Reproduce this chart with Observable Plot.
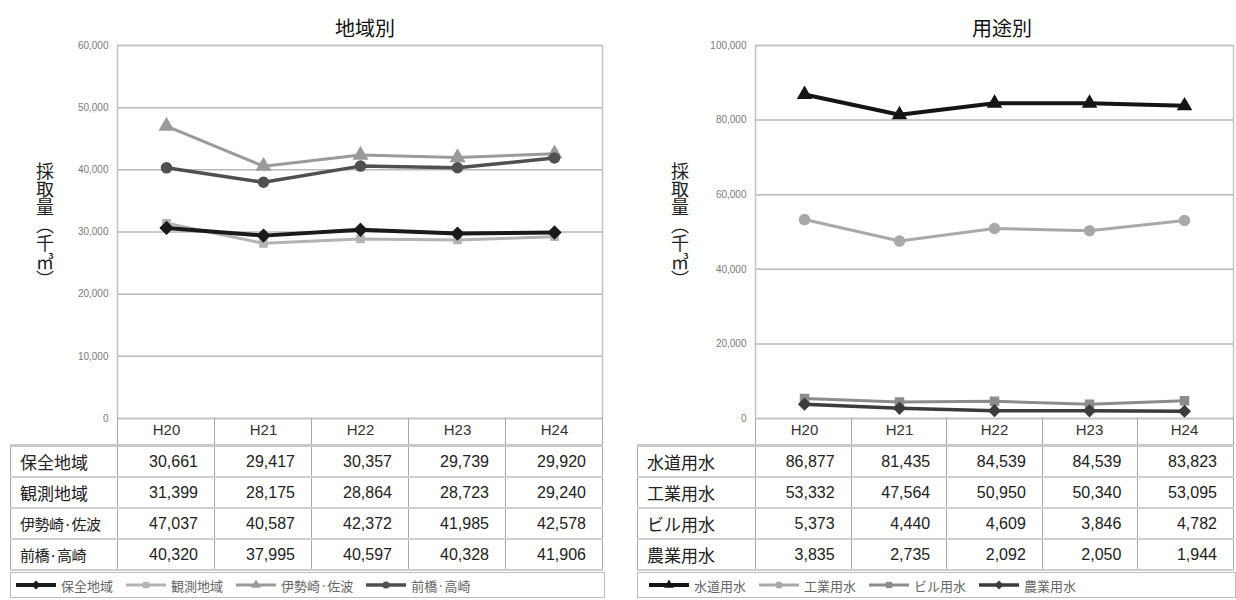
<!DOCTYPE html>
<html>
<head>
<meta charset="utf-8">
<script src="https://cdn.jsdelivr.net/npm/d3@7"></script>
<script src="https://cdn.jsdelivr.net/npm/@observablehq/plot@0.6"></script>
<style>
  body { margin: 0; background: #fff; }
  #root { position: relative; width: 1236px; height: 600px; overflow: hidden;
          font-family: "Liberation Sans", "Noto Sans CJK JP", sans-serif; color: #222; }
  .title { position: absolute; top: 13px; transform: translateX(-50%); white-space: nowrap;
           font-family: "Noto Sans CJK JP", sans-serif; font-size: 20px; color: #111; }
  .ylab { position: absolute; writing-mode: vertical-rl; font-family: "Noto Sans CJK JP", sans-serif;
          font-size: 18px; line-height: 1; color: #222; transform: translateX(-50%); }
  .plot { position: absolute; top: 0; }
  table.data { position: absolute; border-collapse: collapse; table-layout: fixed; background: transparent; }
  table.data td { padding: 0; border-left: 1px solid #a8a8a8; border-right: 1px solid #a8a8a8;
                  border-bottom: 2px solid #cfcfcf; }
  table.data tr.head td { height: 26px; border-bottom: 3px solid #c9c9c9; }
  table.data tr.head td.corner { border-left: none; border-bottom: 3px solid #c9c9c9; }
  table.data tr.row td { height: 29px; }
  table.data td.name { font-family: "Noto Sans CJK JP", sans-serif; font-size: 17px; padding-left: 9px; white-space: nowrap; }
  table.data td.name.compact { font-size: 15px; letter-spacing: -0.5px; }
  table.data td.num { text-align: right; padding-right: 16px; font-size: 16px; }
  .legend { position: absolute; top: 572px; height: 26px; border: 1px solid #bdbdbd; box-sizing: border-box;
            display: flex; align-items: center; font-family: "Noto Sans CJK JP", sans-serif; font-size: 13px; color: #666; }
  .legend .item { display: flex; align-items: center; margin-right: 12px; white-space: nowrap; }
  .legend svg { margin-right: 4px; }
</style>
</head>
<body>
<div id="root"></div>
<script>
// Fiscal years (Heisei)
const years = ["H20", "H21", "H22", "H23", "H24"];

// 地域別 — groundwater withdrawal by area (千㎥)
const areaNames = ["保全地域", "観測地域", "伊勢崎·佐波", "前橋·高崎"];
const hozenChiiki   = [30661, 29417, 30357, 29739, 29920];
const kansokuChiiki = [31399, 28175, 28864, 28723, 29240];
const isesakiSawa   = [47037, 40587, 42372, 41985, 42578];
const maebashiTakasaki = [40320, 37995, 40597, 40328, 41906];
const areaTicks = [0, 10000, 20000, 30000, 40000, 50000, 60000];

// 用途別 — groundwater withdrawal by use (千㎥)
const useNames = ["水道用水", "工業用水", "ビル用水", "農業用水"];
const suidoYousui = [86877, 81435, 84539, 84539, 83823];
const kougyouYousui = [53332, 47564, 50950, 50340, 53095];
const biruYousui = [5373, 4440, 4609, 3846, 4782];
const nougyouYousui = [3835, 2735, 2092, 2050, 1944];
const useTicks = [0, 20000, 40000, 60000, 80000, 100000];

const yLabel = "採取量（千㎥）";

// Line/marker look of each series, in drawing order (bottom first)
const areaStyles = [
  {name: "観測地域", values: kansokuChiiki, color: "#b3b3b3", width: 3, symbol: "square", r: 4},
  {name: "伊勢崎·佐波", values: isesakiSawa, color: "#9a9a9a", width: 3, symbol: "triangle", r: 5},
  {name: "前橋·高崎", values: maebashiTakasaki, color: "#505050", width: 3.5, symbol: "circle", r: 5},
  {name: "保全地域", values: hozenChiiki, color: "#1a1a1a", width: 4, symbol: "diamond2", r: 5.5}
];
const useStyles = [
  {name: "工業用水", values: kougyouYousui, color: "#a9a9a9", width: 3, symbol: "circle", r: 5},
  {name: "ビル用水", values: biruYousui, color: "#8c8c8c", width: 3, symbol: "square", r: 4.5},
  {name: "農業用水", values: nougyouYousui, color: "#3c3c3c", width: 3.5, symbol: "diamond2", r: 5},
  {name: "水道用水", values: suidoYousui, color: "#141414", width: 4, symbol: "triangle", r: 4.8}
];

const root = document.getElementById("root");
const fmt = d3.format(",");

function lineChart({styles, ticks, width, marginLeft, marginRight}) {
  const marks = [
    Plot.gridY({ticks, stroke: "#b8b8b8", strokeOpacity: 1, strokeWidth: 1.5}),
    Plot.frame({stroke: "#c4c4c4", strokeWidth: 1.5}),
    Plot.axisY({ticks, tickFormat: fmt, tickSize: 0, tickPadding: 9, fontSize: 10, fill: "#7a7a7a", label: null}),
    Plot.axisX({tickSize: 0, tickPadding: 6, fontSize: 15, fill: "#333", label: null})
  ];
  for (const s of styles) {
    const data = years.map((year, i) => ({year, value: s.values[i]}));
    marks.push(Plot.line(data, {x: "year", y: "value", stroke: s.color, strokeWidth: s.width}));
    marks.push(Plot.dot(data, {x: "year", y: "value", symbol: s.symbol, fill: s.color, stroke: s.color, r: s.r}));
  }
  return Plot.plot({
    width, height: 445,
    marginTop: 45, marginBottom: 27, marginLeft, marginRight,
    style: {background: "transparent", fontFamily: "Liberation Sans, sans-serif", overflow: "visible"},
    x: {type: "point", domain: years, padding: 0.5},
    y: {domain: [ticks[0], ticks[ticks.length - 1]]},
    marks
  });
}

function dataTable({names, styles, left, labelWidth, colWidth}) {
  const t = document.createElement("table");
  t.className = "data";
  t.style.left = left + "px";
  t.style.top = "418px";
  t.style.width = (labelWidth + colWidth * years.length) + "px";
  const cg = document.createElement("colgroup");
  [labelWidth, ...years.map(() => colWidth)].forEach(w => {
    const c = document.createElement("col"); c.style.width = w + "px"; cg.appendChild(c);
  });
  t.appendChild(cg);
  const head = document.createElement("tr");
  head.className = "head";
  const corner = document.createElement("td"); corner.className = "corner"; head.appendChild(corner);
  years.forEach(() => head.appendChild(document.createElement("td")));
  t.appendChild(head);
  for (const name of names) {
    const s = styles.find(d => d.name === name);
    const tr = document.createElement("tr");
    tr.className = "row";
    const th = document.createElement("td");
    th.className = "name" + (name.length > 4 ? " compact" : "");
    th.textContent = name;
    tr.appendChild(th);
    s.values.forEach(v => {
      const td = document.createElement("td"); td.className = "num"; td.textContent = fmt(v); tr.appendChild(td);
    });
    t.appendChild(tr);
  }
  root.appendChild(t);
}

function legend({names, styles, left, width, padLeft}) {
  const div = document.createElement("div");
  div.className = "legend";
  div.style.left = left + "px";
  div.style.width = width + "px";
  div.style.paddingLeft = padLeft + "px";
  for (const name of names) {
    const s = styles.find(d => d.name === name);
    const item = document.createElement("div");
    item.className = "item";
    const sw = d3.create("svg").attr("width", 42).attr("height", 14);
    sw.append("line").attr("x1", 1).attr("x2", 41).attr("y1", 7).attr("y2", 7)
      .attr("stroke", s.color).attr("stroke-width", s.width);
    const sym = {circle: d3.symbolCircle, square: d3.symbolSquare, triangle: d3.symbolTriangle, diamond2: d3.symbolSquare}[s.symbol];
    sw.append("path").attr("d", d3.symbol(sym, 40)())
      .attr("transform", `translate(21,7)${s.symbol === "diamond2" ? " rotate(45)" : ""}`)
      .attr("fill", s.color);
    item.appendChild(sw.node());
    const label = document.createElement("span");
    label.textContent = name;
    item.appendChild(label);
    div.appendChild(item);
  }
  root.appendChild(div);
}

function text(cls, str, x, y) {
  const d = document.createElement("div");
  d.className = cls; d.textContent = str;
  d.style.left = x + "px"; d.style.top = y + "px";
  root.appendChild(d);
}

// Left panel: 地域別
const left = lineChart({styles: areaStyles, ticks: areaTicks, width: 620, marginLeft: 117, marginRight: 18});
left.classList.add("plot"); left.style.left = "0px";
root.appendChild(left);
text("title", "地域別", 365, 13);
text("ylab", yLabel, 45, 162);
dataTable({names: areaNames, styles: areaStyles, left: 10, labelWidth: 107, colWidth: 97});
legend({names: areaNames, styles: areaStyles, left: 10, width: 595, padLeft: 4});

// Right panel: 用途別
const right = lineChart({styles: useStyles, ticks: useTicks, width: 618, marginLeft: 137, marginRight: 3});
right.classList.add("plot"); right.style.left = "618px";
root.appendChild(right);
text("title", "用途別", 1002, 13);
text("ylab", yLabel, 680, 162);
dataTable({names: useNames, styles: useStyles, left: 637, labelWidth: 118, colWidth: 95.6});
legend({names: useNames, styles: useStyles, left: 637, width: 599, padLeft: 10});
</script>
</body>
</html>
